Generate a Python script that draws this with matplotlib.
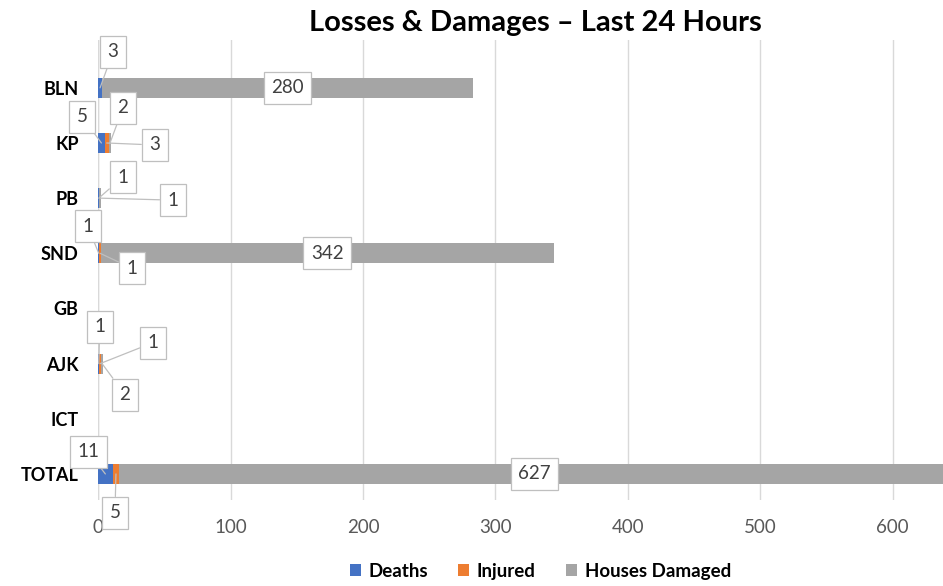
import matplotlib.pyplot as plt
import numpy as np

plt.rcParams["font.family"] = ["Lato", "DejaVu Sans"]

categories = ["BLN", "KP", "PB", "SND", "GB", "AJK", "ICT", "TOTAL"]
deaths = [3, 5, 1, 1, 0, 1, 0, 11]
injured = [0, 3, 0, 1, 0, 1, 0, 5]
houses = [280, 2, 1, 342, 0, 2, 0, 627]
series_names = ["Deaths", "Injured", "Houses Damaged"]
colors = ["#4472C4", "#ED7D31", "#A5A5A5"]

# callout offsets in pixels (dx, dy) for small segments; None = label centred in bar
callouts = {
    ("BLN", 0): (13, 36), ("BLN", 2): None,
    ("KP", 0): (-19, 26), ("KP", 1): (48, -2), ("KP", 2): (13, 35),
    ("PB", 0): (24, 21), ("PB", 2): (73, -2),
    ("SND", 0): (-11, 27), ("SND", 1): (32, -15), ("SND", 2): None,
    ("AJK", 0): (1, 37), ("AJK", 1): (53, 21), ("AJK", 2): (23, -31),
    ("TOTAL", 0): (-17, 22), ("TOTAL", 1): (-1, -39), ("TOTAL", 2): None,
}

fig = plt.figure(figsize=(9.43, 5.86), dpi=100)
ax = fig.add_axes([0.104, 0.147, 0.896, 0.785])

y = np.arange(len(categories))
left = np.zeros(len(categories))
data = [deaths, injured, houses]
for i, vals in enumerate(data):
    vals = np.array(vals, dtype=float)
    ax.barh(y, vals, left=left, height=0.36, color=colors[i], label=series_names[i], zorder=3)
    for j, cat in enumerate(categories):
        if vals[j] <= 0 or (cat, i) not in callouts:
            continue
        cx = left[j] + vals[j] / 2
        off = callouts[(cat, i)]
        box = dict(boxstyle="square,pad=0.4", fc="white", ec="#BFBFBF", lw=0.9)
        if off is None:
            ax.annotate(f"{int(vals[j])}", (cx, y[j]), ha="center", va="center",
                        fontsize=13.5, color="#404040", bbox=box, zorder=5)
        else:
            ax.annotate(f"{int(vals[j])}", (cx, y[j]), xytext=off, textcoords="offset pixels",
                        ha="center", va="center", fontsize=13.5, color="#404040", bbox=box,
                        arrowprops=dict(arrowstyle="-", color="#BFBFBF", lw=0.9,
                                        shrinkA=0, shrinkB=0),
                        zorder=5, annotation_clip=False)
    left += vals

ax.set_xlim(0, 638)
ax.set_ylim(7.47, -0.87)
ax.set_yticks(y)
ax.set_yticklabels(categories, fontsize=13, fontweight="bold", color="black")
ax.set_xticks(np.arange(0, 700, 100))
ax.tick_params(axis="x", labelsize=13.5, labelcolor="#595959", length=0, pad=14)
ax.tick_params(axis="y", length=0, pad=14)
ax.grid(axis="x", color="#D9D9D9", lw=1, zorder=0)
for s in ax.spines.values():
    s.set_visible(False)
ax.axvline(0, color="#D9D9D9", lw=1, zorder=1)

fig.text(0.568, 0.96, "Losses & Damages \u2013 Last 24 Hours", ha="center", va="center",
         fontsize=21, fontweight="bold")
leg = fig.legend(loc="center", bbox_to_anchor=(0.573, 0.025), ncol=3, frameon=False,
                 handlelength=0.6, handleheight=0.6, columnspacing=1.6, handletextpad=0.4,
                 prop={"size": 13.5, "weight": "bold"})

fig.savefig("out.png", dpi=100)
